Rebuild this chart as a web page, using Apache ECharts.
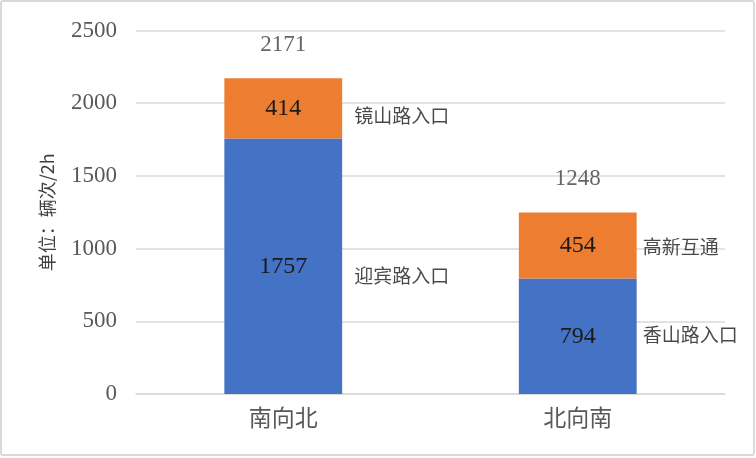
<!DOCTYPE html>
<html>
<head>
<meta charset="utf-8">
<script src="https://cdn.jsdelivr.net/npm/echarts@6/dist/echarts.min.js"></script>
<style>
html,body{margin:0;padding:0;background:#fff;}
#chart{width:756px;height:458px;}
</style>
</head>
<body>
<div id="chart"></div>
<script>
// ---- data ----
var categories = ['南向北', '北向南'];
var lowerValues = [1757, 794];          // blue segment
var upperValues = [414, 454];           // orange segment
var totals = [2171, 1248];
var lowerNames = ['迎宾路入口', '香山路入口'];
var upperNames = ['镜山路入口', '高新互通'];
var yTicks = { min: 0, max: 2500, interval: 500 };
var yAxisTitle = '单位：辆次/2h';

// ---- styles ----
var numFont = '"Liberation Serif", "Times New Roman", serif';
var cjkFont = '"Noto Sans CJK SC", sans-serif';
var lowerNudge = [[71, 10], [65, -1]];
var upperNudge = [[71, 7], [65, 1]];

function nameLabelData(base, values, names, nudges, isUpper) {
  return values.map(function (v, i) {
    var mid = isUpper ? base[i] + v / 2 : v / 2;
    return {
      value: [categories[i], mid],
      label: {
        show: true,
        formatter: names[i],
        position: nudges[i],
        align: 'left',
        verticalAlign: 'middle'
      }
    };
  });
}

var chart = echarts.init(document.getElementById('chart'));
chart.setOption({
  animation: false,
  backgroundColor: '#fff',
  graphic: [{
    type: 'rect',
    shape: { x: 1, y: 1, width: 753, height: 454, r: 2 },
    style: { fill: 'none', stroke: '#d9d9d9', lineWidth: 2 },
    silent: true
  }],
  grid: { left: 136, right: 31, top: 30.5, bottom: 64 },
  xAxis: {
    type: 'category',
    data: categories,
    axisTick: { show: false },
    axisLine: { lineStyle: { color: '#d9d9d9', width: 1.5 } },
    axisLabel: { color: '#595959', fontSize: 23, fontFamily: cjkFont, margin: 12 }
  },
  yAxis: {
    type: 'value',
    min: yTicks.min, max: yTicks.max, interval: yTicks.interval,
    name: yAxisTitle,
    nameLocation: 'middle',
    nameGap: 80,
    nameTextStyle: { color: '#404040', fontSize: 18, fontFamily: cjkFont },
    axisLine: { show: false },
    axisTick: { show: false },
    splitLine: { lineStyle: { color: '#d9d9d9', width: 1.5 } },
    axisLabel: {
      color: '#595959', fontSize: 23, fontFamily: numFont, margin: 19,
      formatter: function (v) { return String(v); }
    }
  },
  series: [
    {
      type: 'bar', stack: 'total', data: lowerValues,
      barWidth: '40%',
      itemStyle: { color: '#4472C4' },
      label: { show: true, position: 'inside', color: '#1a1a1a', fontSize: 24, fontFamily: numFont }
    },
    {
      type: 'bar', stack: 'total', data: upperValues,
      barWidth: '40%',
      itemStyle: { color: '#ED7D31' },
      label: { show: true, position: 'inside', color: '#1a1a1a', fontSize: 24, fontFamily: numFont }
    },
    {
      type: 'scatter', data: totals, symbolSize: 0, silent: true,
      label: { show: true, position: 'top', distance: 22, color: '#404040', fontSize: 23, fontFamily: numFont }
    },
    {
      type: 'scatter', symbolSize: 0, silent: true,
      data: nameLabelData(lowerValues, lowerValues, lowerNames, lowerNudge, false),
      label: { color: '#1a1a1a', fontSize: 19, fontFamily: cjkFont }
    },
    {
      type: 'scatter', symbolSize: 0, silent: true,
      data: nameLabelData(lowerValues, upperValues, upperNames, upperNudge, true),
      label: { color: '#1a1a1a', fontSize: 19, fontFamily: cjkFont }
    }
  ]
});
</script>
</body>
</html>
